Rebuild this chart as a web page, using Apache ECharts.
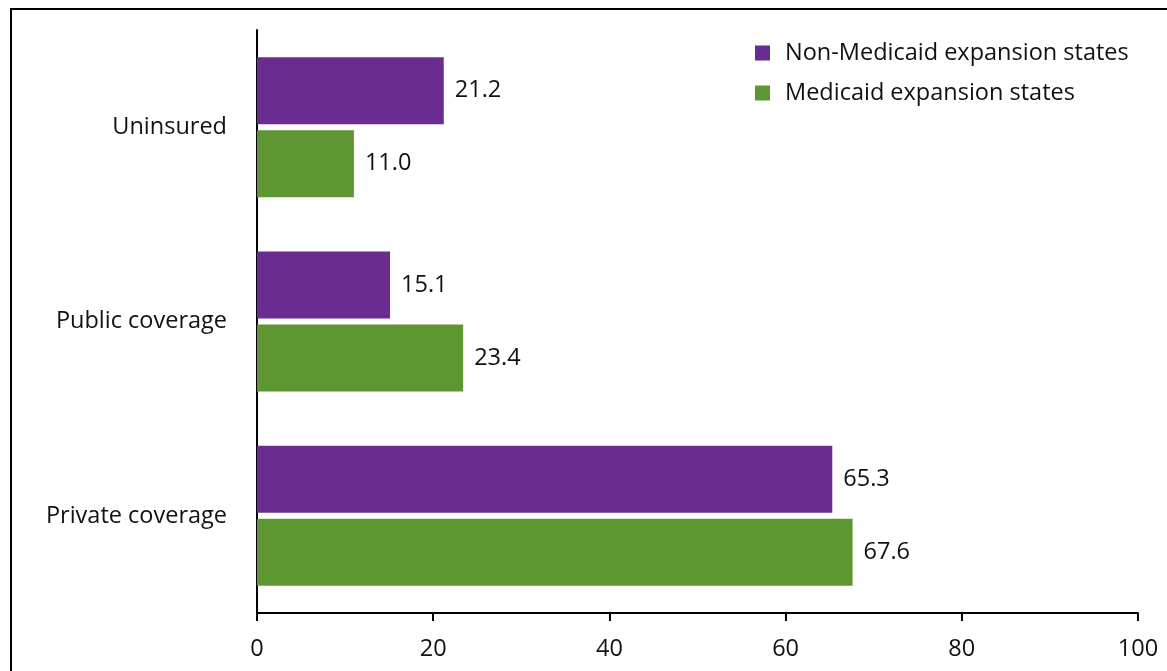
<!DOCTYPE html>
<html>
<head>
<meta charset="utf-8">
<script src="https://cdn.jsdelivr.net/npm/echarts@6/dist/echarts.min.js"></script>
<style>
  html, body { margin: 0; padding: 0; background: #fff; }
  #frame { position: absolute; left: 10px; top: 8px; width: 1200px; height: 700px; border: 2px solid #000; box-sizing: border-box; }
  #chart { position: absolute; left: 0; top: 0; width: 1167px; height: 671px; }
</style>
</head>
<body>
<div id="frame"></div>
<div id="chart"></div>
<script>
const categories = ['Uninsured', 'Public coverage', 'Private coverage'];
const nonExpansion = [21.2, 15.1, 65.3];
const expansion = [11.0, 23.4, 67.6];
const seriesNames = ['Non-Medicaid expansion states', 'Medicaid expansion states'];

const font = '"Open Sans", "Noto Sans", sans-serif';
const fs = 23.5;
const chart = echarts.init(document.getElementById('chart'), null, { renderer: 'canvas' });

const labelStyle = {
  show: true,
  position: 'right',
  distance: 11,
  color: '#111',
  fontSize: fs,
  fontFamily: font,
  formatter: p => p.value.toFixed(1)
};

chart.setOption({
  animation: false,
  backgroundColor: 'transparent',
  legend: {
    orient: 'vertical',
    left: 750,
    top: 36,
    itemWidth: 15,
    itemHeight: 15,
    itemGap: 16,
    icon: 'rect',
    textStyle: { fontSize: fs, fontFamily: font, color: '#111', padding: [0, 0, 0, 10] },
    data: seriesNames
  },
  grid: { left: 257, right: 29, top: 30, bottom: 58 },
  xAxis: {
    type: 'value',
    min: 0,
    max: 100,
    interval: 20,
    axisLine: { show: true, lineStyle: { color: '#000', width: 2 } },
    axisTick: { show: true, length: 8, lineStyle: { color: '#000', width: 2 } },
    splitLine: { show: false },
    axisLabel: { fontSize: fs, fontFamily: font, color: '#111', margin: 24 }
  },
  yAxis: {
    type: 'category',
    inverse: true,
    data: categories,
    axisLine: { show: true, lineStyle: { color: '#000', width: 2 } },
    axisTick: { show: false },
    axisLabel: { fontSize: fs, fontFamily: font, color: '#111', margin: 30 }
  },
  series: [
    {
      name: seriesNames[0],
      type: 'bar',
      data: nonExpansion,
      itemStyle: { color: '#6B2C91' },
      barGap: '9%',
      barCategoryGap: '28%',
      label: labelStyle
    },
    {
      name: seriesNames[1],
      type: 'bar',
      data: expansion,
      itemStyle: { color: '#5E9732' },
      barGap: '9%',
      barCategoryGap: '28%',
      label: labelStyle
    }
  ]
});
</script>
</body>
</html>
